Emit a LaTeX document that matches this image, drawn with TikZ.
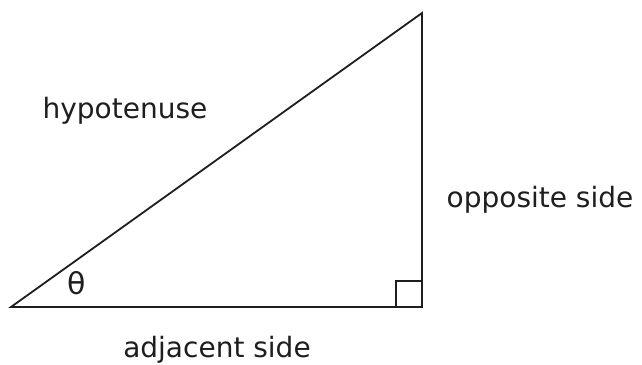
\documentclass[tikz,border=0pt]{standalone}
\usepackage{fontspec}
\setmainfont{DejaVu Sans}
\usepackage{tikz}
\usetikzlibrary{calc,positioning}
\definecolor{Ink}{HTML}{1E1E1E}

\begin{document}
\begin{tikzpicture}[x=1pt,y=1pt,every node/.style={font=\fontsize{28}{32}\selectfont,text=Ink,inner sep=0pt,anchor=base}]
    \useasboundingbox (0,0) rectangle (642,364);

    \coordinate (angle-vertex) at (11,57);
    \coordinate (right-vertex) at (422,57);
    \coordinate (top-vertex) at (422,351);

    \draw[Ink,line width=1.8pt,line join=miter] (angle-vertex) -- (right-vertex) -- (top-vertex) -- cycle;
    \draw[Ink,line width=1.8pt] ($(right-vertex)+(-26,0)$) rectangle ($(right-vertex)+(0,26)$);

    \node (hyp) at (125,245) {hypotenuse};
    \node (opp) at (540,156) {opposite side};
    \node (adj) at (217,7) {adjacent side};
    \node[font=\fontsize{30}{34}\selectfont] (theta) at (77,70) {θ};
  \end{tikzpicture}
\end{document}
